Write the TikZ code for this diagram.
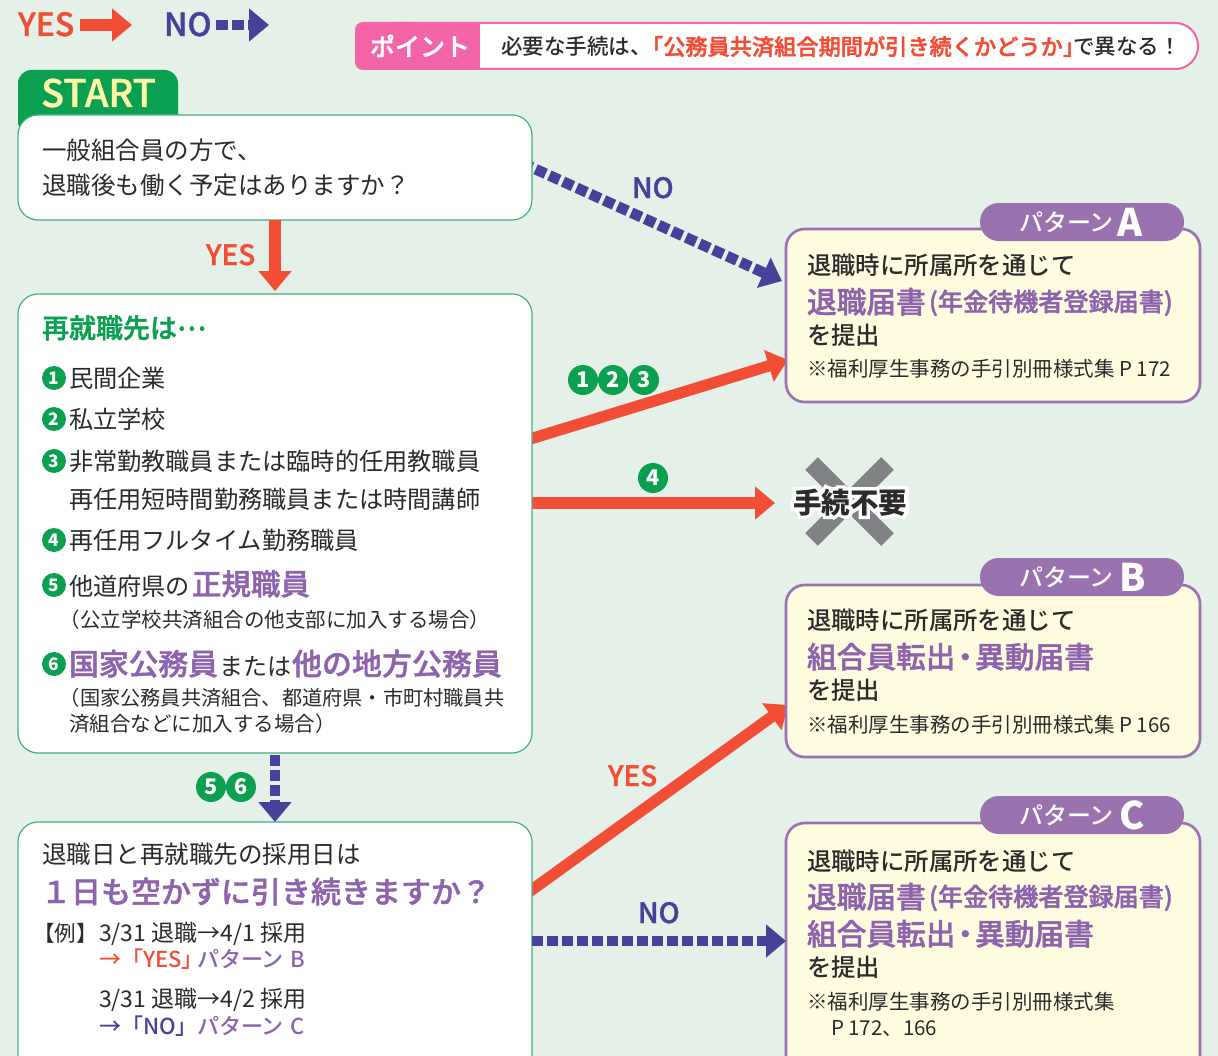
\documentclass[tikz,border=0pt]{standalone}
\usepackage{fontspec}
\usetikzlibrary{arrows.meta,calc}
\setmainfont{Noto Sans CJK JP}
\newfontfamily\jpm{Noto Sans CJK JP Medium}
\newfontfamily\lat{Noto Sans CJK JP Medium}
\definecolor{bgc}{HTML}{E4F0E8}
\definecolor{redc}{HTML}{F24E36}
\definecolor{bluec}{HTML}{474199}
\definecolor{greenc}{HTML}{0AA050}
\definecolor{gline}{HTML}{45B07F}
\definecolor{purplec}{HTML}{8E63AE}
\definecolor{tabc}{HTML}{9B72B0}
\definecolor{boxy}{HTML}{FFFCE0}
\definecolor{pinkc}{HTML}{F464A8}
\definecolor{inkc}{HTML}{2B2B2B}
\definecolor{grayc}{HTML}{808285}
\definecolor{creamc}{HTML}{FFF6A8}
\newcommand{\sz}[1]{\pgfmathsetmacro\tmpsz{#1*0.75}\fontsize{\tmpsz pt}{\tmpsz pt}\selectfont}
\newcommand{\halo}[1]{\special{pdf:code q 2 Tr 5 w 1 1 1 RG 1 1 1 rg}#1\special{pdf:code Q}}
\pgfdeclarelayer{under}
\pgfsetlayers{under,main}
\tikzset{
  x=0.75pt,y=-0.75pt,
  stroked/.style={execute at begin node={\special{pdf:code q 2 Tr #1 w}},execute at end node={\special{pdf:code Q}}},
  txt/.style={font=\sz{#1},anchor=base west,inner sep=0pt,outer sep=0pt,text=inkc},
  med/.style={font=\sz{#1}\jpm,anchor=base west,inner sep=0pt,outer sep=0pt,text=inkc},
  bld/.style={font=\sz{#1}\jpm,anchor=base west,inner sep=0pt,outer sep=0pt,text=purplec,stroked=0.3},
  hvy/.style={font=\sz{#1}\bfseries,anchor=base west,inner sep=0pt,outer sep=0pt,text=inkc},
  latin/.style={font=\sz{#1}\lat,anchor=base west,inner sep=0pt,outer sep=0pt,stroked=0.25},
  gbox/.style={draw=gline,fill=white,line width=0.9pt,rounded corners=15pt,inner sep=0pt,outer sep=0pt},
  pbox/.style={draw=tabc,fill=boxy,line width=2pt,rounded corners=14pt,inner sep=0pt,outer sep=0pt,minimum width=310.5pt},
  ptab/.style={fill=tabc,rounded corners=14pt,inner sep=0pt,outer sep=0pt,minimum width=153pt,minimum height=28.5pt},
  numc/.style={circle,fill=greenc,text=white,inner sep=0pt,minimum size=#1*0.75pt,font=\sz{#1*0.72}\bfseries},
  yesline/.style={draw=redc,line width=8.5pt,-{Triangle[length=15pt,width=24pt,fill=redc]}},
  noline/.style={draw=bluec,line width=8pt,dash pattern=on 8.25pt off 3pt,-{Triangle[length=15pt,width=24pt,fill=bluec]}},
}
\begin{document}
\begin{tikzpicture}
\useasboundingbox (0,0) rectangle (1218,1056);
\begin{pgfonlayer}{under}
\fill[bgc] (0,0) rectangle (1218,1056);
\end{pgfonlayer}

% legend
\node[latin=32,text=redc] (legY) at (18,36) {YES};
\coordinate (legYa) at (80,25);
\coordinate (legYb) at (132,25);
\draw[yesline] (legYa) -- (legYb);
\node[latin=32,text=bluec] (legN) at (164,36) {NO};
\coordinate (legNa) at (216,25);
\coordinate (legNb) at (269,25);
\draw[noline,dash pattern=on 9pt off 3pt] (legNa) -- (legNb);

% point banner
\node[draw=pinkc,fill=white,line width=1.5pt,rounded corners=17pt,minimum width=621pt,minimum height=34.5pt,inner sep=0pt] (pt) at (784,46) {};
\fill[pinkc,rounded corners=6pt] (355,22) rectangle (420,70);
\fill[pinkc] (390,22) rectangle (480,70);
\node[bld=25,text=white] (ptT) at (370,56) {ポイント};
\node[med=21.5] (pt1) at (501,55) {必要な手続は、};
\node[bld=22.2,text=redc] (pt2) at (641,55) {「公務員共済組合期間が引き続くかどうか」};
\node[med=21.5] (pt3) at (1073,55) {で異なる！};

% start tab + boxes
\fill[greenc,rounded corners=10pt] (18,135) -- (18,70) -- (178,70) -- (178,135) -- cycle;
\node[latin=38,text=creamc] (startT) at (41,107) {START};
\node[gbox,minimum width=385.5pt,minimum height=78.75pt] (b1) at (275,167.5) {};
\node[gbox,minimum width=385.5pt,minimum height=344.25pt] (b2) at (275,523.5) {};
\node[gbox,minimum width=385.5pt,minimum height=208.5pt] (b3) at (275,961) {};
\node[pbox,minimum height=129.75pt] (pa) at (993,315.5) {};
\node[pbox,minimum height=129pt] (pb) at (993,671) {};
\node[pbox,minimum height=207.75pt] (pc) at (993,961.5) {};
\node[ptab] (ta) at (1082,222) {};
\node[ptab] (tb) at (1082,577) {};
\node[ptab] (tc) at (1082,815) {};

% connectors
\coordinate (b1r) at ($(b1.east)+(-10,-4.5)$);
\coordinate (pai1) at (782,281);
\coordinate (b2r1) at ($(b2.east)+(-10,-82)$);
\coordinate (pai2) at (788,360);
\coordinate (b2r2) at ($(b2.east)+(-10,-20.5)$);
\coordinate (xin) at (775,503);
\coordinate (b3r1) at ($(b3.east)+(-10,-64)$);
\coordinate (pbi) at (788,705);
\coordinate (b3r2) at ($(b3.east)+(0,-20)$);
\coordinate (pci) at (pc.west |- b3r2);
\begin{pgfonlayer}{under}
\draw[noline] (b1r) -- (pai1);
\draw[yesline] (b2r1) -- (pai2);
\draw[yesline] (b2r2) -- (xin);
\draw[yesline] (b3r1) -- (pbi);
\end{pgfonlayer}
\draw[yesline,shorten >=2.2pt] (b1.south) -- (b2.north);
\draw[noline,shorten <=1.5pt] (b2.south) -- (b3.north);
\draw[noline] (b3r2) -- (pci);

% connector labels
\node[latin=28,text=redc] (lyes1) at (206,265) {YES};
\node[latin=28,text=bluec] (lno1) at (632,198) {NO};
\node[latin=28,text=redc] (lyes2) at (608,786) {YES};
\node[latin=28,text=bluec] (lno2) at (638,923) {NO};
\node[numc=30] (c1) at (583,380) {1};
\node[numc=30] (c2) at (613,380) {2};
\node[numc=30] (c3) at (644,380) {3};
\node[numc=30] (c4) at (653,478) {4};
\node[numc=30] (c5) at (211,787) {5};
\node[numc=30] (c6) at (241,787) {6};

% cross
\coordinate (xa) at (811.5,463.5);
\coordinate (xb) at (887.5,539.5);
\coordinate (xc) at (887.5,463.5);
\coordinate (xd) at (811.5,539.5);
\draw[grayc,line width=13.5pt] (xa) -- (xb);
\draw[grayc,line width=13.5pt] (xc) -- (xd);
\node[hvy=28.5,text=white] (noneH) at (793,513) {\halo{手続不要}};
\node[hvy=28.5] (noneT) at (793,513) {手続不要};

% box 1
\node[txt=24.5] (t1) at (42,159) {一般組合員の方で、};
\node[txt=24.5] (t2) at (42,195) {退職後も働く予定はありますか？};

% box 2
\node[bld=27,text=greenc] (t3) at (42,338) {再就職先は\raisebox{0.28em}{…}};
\node[numc=24] (n1) at (54,378) {1};
\node[txt=24.2] (i1) at (69,387) {民間企業};
\node[numc=24] (n2) at (54,419) {2};
\node[txt=24.2] (i2) at (69,428) {私立学校};
\node[numc=24] (n3) at (54,461) {3};
\node[txt=24.2] (i3) at (69,470) {非常勤教職員または臨時的任用教職員};
\node[txt=24.2] (i3b) at (69,508) {再任用短時間勤務職員または時間講師};
\node[numc=24] (n4) at (54,540) {4};
\node[txt=24.2] (i4) at (69,549) {再任用フルタイム勤務職員};
\node[numc=24] (n5) at (54,585) {5};
\node[txt=24.2] (i5) at (69,595) {他道府県の};
\node[bld=29.5] (i5b) at (192,595) {正規職員};
\node[txt=20.5] (i5c) at (60,627) {（公立学校共済組合の他支部に加入する場合）};
\node[numc=24] (n6) at (54,664) {6};
\node[bld=29.8] (i6) at (69,675) {国家公務員};
\node[txt=24] (i6b) at (219,675) {または};
\node[bld=30] (i6c) at (292,675) {他の地方公務員};
\node[txt=20.2] (i6d) at (60,705) {（国家公務員共済組合、都道府県・市町村職員共};
\node[txt=20.5] (i6e) at (69,731) {済組合などに加入する場合）};

% box 3
\node[txt=24.5] (t4) at (42,863) {退職日と再就職先の採用日は};
\node[bld=30] (t5) at (41,903) {１日も空かずに引き続きますか？};
\node[txt=21.5] (t6) at (33,941) {【例】};
\node[txt=23] (t7) at (99,941) {3/31 退職→4/1 採用};
\node[med=22,text=redc] (t8a) at (99,967) {→「YES」};
\node[med=22,text=purplec] (t8b) at (197,967) {パターン};
\node[med=22,text=purplec] (t8c) at (290,967) {B};
\node[txt=23] (t9) at (99,1007) {3/31 退職→4/2 採用};
\node[med=22,text=bluec] (t10a) at (99,1034) {→「NO」};
\node[med=22,text=purplec] (t10b) at (197,1034) {パターン};
\node[med=22,text=purplec] (t10c) at (290,1034) {C};

% pattern tabs
\node[med=24,text=white] (ta1) at (1019,231) {パターン};
\node[hvy=38,text=white] (ta2) at (1117,236) {A};
\node[med=24,text=white] (tb1) at (1019,586) {パターン};
\node[hvy=38,text=white] (tb2) at (1119,591) {B};
\node[med=24,text=white] (tc1) at (1019,824) {パターン};
\node[hvy=38,text=white] (tc2) at (1119,829) {C};

% pattern A
\node[med=24.4] (a1) at (807,274) {退職時に所属所を通じて};
\node[bld=29.7] (a2) at (807,313) {退職届書};
\node[bld=25.1] (a3) at (929,311) {(年金待機者登録届書)};
\node[med=24.4] (a4) at (807,344) {を提出};
\node[txt=20.5] (a5) at (807,376) {※福利厚生事務の手引別冊様式集 P 172};

% pattern B
\node[med=24.4] (b1t) at (807,629) {退職時に所属所を通じて};
\node[bld=29.7] (b2t) at (807,668) {組合員転出\hspace{-0.17em}・\hspace{-0.17em}異動届書};
\node[med=24.4] (b3t) at (807,699) {を提出};
\node[txt=20.5] (b4t) at (807,732) {※福利厚生事務の手引別冊様式集 P 166};

% pattern C
\node[med=24.4] (c1t) at (807,870) {退職時に所属所を通じて};
\node[bld=29.7] (c2t) at (807,908) {退職届書};
\node[bld=25.1] (c3t) at (929,906) {(年金待機者登録届書)};
\node[bld=29.7] (c4t) at (807,945) {組合員転出\hspace{-0.17em}・\hspace{-0.17em}異動届書};
\node[med=24.4] (c5t) at (807,976) {を提出};
\node[txt=20.5] (c6t) at (807,1009) {※福利厚生事務の手引別冊様式集};
\node[txt=20.5] (c7t) at (831,1035) {P 172、166};
\end{tikzpicture}
\end{document}
